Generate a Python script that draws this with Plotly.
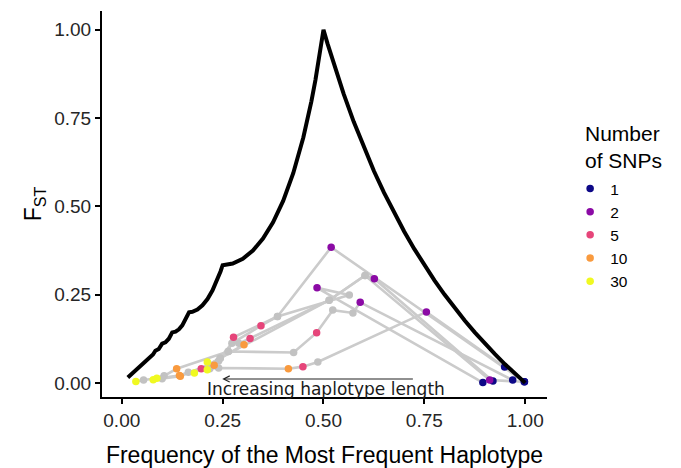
import plotly.graph_objects as go

# Upper bound curve of FST vs frequency of most frequent haplotype
curve_m = [0.015, 0.02, 0.025, 0.0333, 0.04, 0.05, 0.0556, 0.0625, 0.0714, 0.0774,
           0.0833, 0.0917, 0.1, 0.1083, 0.1167, 0.125, 0.1333, 0.1417, 0.15, 0.1583,
           0.1667, 0.175, 0.1875, 0.2, 0.2125, 0.225, 0.2375, 0.245, 0.25, 0.275,
           0.3, 0.325, 0.35, 0.375, 0.4, 0.425, 0.45, 0.46, 0.47, 0.48, 0.49, 0.5,
           0.51, 0.52, 0.53, 0.55, 0.575, 0.6, 0.625, 0.65, 0.675, 0.7, 0.725, 0.75,
           0.775, 0.8, 0.825, 0.85, 0.875, 0.9, 0.925, 0.95, 0.975, 1.0]
curve_f = [0.0151, 0.0204, 0.0256, 0.0345, 0.0408, 0.0526, 0.0588, 0.0667, 0.0769, 0.0804,
           0.0909, 0.0959, 0.1111, 0.1146, 0.125, 0.1429, 0.145, 0.1516, 0.1628, 0.1788,
           0.2, 0.2012, 0.2075, 0.2195, 0.2374, 0.2619, 0.2935, 0.3163, 0.3333, 0.3378,
           0.3514, 0.3746, 0.4085, 0.4545, 0.5152, 0.5936, 0.6949, 0.7434, 0.7972, 0.8574, 0.9246, 1.0,
           0.9608, 0.9231, 0.8868, 0.8182, 0.7391, 0.6667, 0.6, 0.5385, 0.4815, 0.4286, 0.3793, 0.3333,
           0.2903, 0.25, 0.2121, 0.1765, 0.1429, 0.1111, 0.0811, 0.0526, 0.0256, 0.0]

# Haplotype trajectories (one per region): M, FST, number of SNPs
path_a_m = [0.998, 0.519, 0.386, 0.345, 0.273, 0.229, 0.212]
path_a_f = [0.003, 0.384, 0.188, 0.162, 0.112, 0.050, 0.059]
path_a_n = [1, 2, 3, 5, 7, 10, 30]

path_b_m = [0.920, 0.626, 0.603, 0.514, 0.318, 0.290, 0.303, 0.244, 0.180]
path_b_f = [0.005, 0.295, 0.304, 0.234, 0.126, 0.112, 0.108, 0.070, 0.028]
path_b_n = [1, 2, 3, 4, 5, 7, 10, 20, 30]

path_c_m = [0.895, 0.484, 0.564, 0.386, 0.277, 0.264, 0.136, 0.105, 0.087]
path_c_f = [0.001, 0.269, 0.249, 0.188, 0.129, 0.089, 0.040, 0.020, 0.013]
path_c_n = [1, 2, 3, 4, 5, 7, 10, 20, 30]

path_d_m = [0.969, 0.591, 0.573, 0.523, 0.483, 0.426, 0.264, 0.240, 0.145, 0.100, 0.078]
path_d_f = [0.008, 0.228, 0.198, 0.206, 0.142, 0.086, 0.089, 0.062, 0.019, 0.012, 0.009]
path_d_n = [1, 2, 3, 4, 5, 6, 8, 9, 10, 20, 30]

path_e_m = [0.949, 0.755, 0.486, 0.449, 0.413, 0.240, 0.218, 0.212]
path_e_f = [0.045, 0.201, 0.059, 0.046, 0.040, 0.042, 0.040, 0.037]
path_e_n = [1, 2, 3, 5, 10, 15, 20, 30]

path_f_m = [0.998, 0.912, 0.603, 0.514, 0.244, 0.197, 0.165, 0.143, 0.054, 0.035]
path_f_f = [0.003, 0.008, 0.304, 0.234, 0.070, 0.040, 0.030, 0.021, 0.008, 0.004]
path_f_n = [1, 2, 3, 4, 4.5, 5, 7, 10, 20, 30]

paths = [(path_a_m, path_a_f, path_a_n), (path_b_m, path_b_f, path_b_n),
         (path_c_m, path_c_f, path_c_n), (path_d_m, path_d_f, path_d_n),
         (path_e_m, path_e_f, path_e_n), (path_f_m, path_f_f, path_f_n)]

snp_levels = [1, 2, 5, 10, 30]
snp_colors = ["#0D0887", "#8B0AA5", "#E6457A", "#F99A3E", "#F0F921"]

fig = go.Figure()

for m, f, n in paths:
    fig.add_trace(go.Scatter(x=m, y=f, mode="lines",
                             line=dict(color="#CBCBCB", width=2.6),
                             showlegend=False, hoverinfo="skip"))

gx, gy = [], []
for m, f, n in paths:
    for xi, yi, ni in zip(m, f, n):
        if ni not in snp_levels:
            gx.append(xi)
            gy.append(yi)
fig.add_trace(go.Scatter(x=gx, y=gy, mode="markers",
                         marker=dict(color="#C2C2C2", size=7.5),
                         showlegend=False, hoverinfo="skip"))

for lev, col in zip(snp_levels, snp_colors):
    xs, ys = [], []
    for m, f, n in paths:
        for xi, yi, ni in zip(m, f, n):
            if ni == lev:
                xs.append(xi)
                ys.append(yi)
    fig.add_trace(go.Scatter(x=xs, y=ys, mode="markers", name=str(lev),
                             marker=dict(color=col, size=7.5)))

fig.add_trace(go.Scatter(x=curve_m, y=curve_f, mode="lines",
                         line=dict(color="black", width=4),
                         showlegend=False, hoverinfo="skip"))

font_main = "Liberation Sans, Arial, sans-serif"

fig.add_annotation(x=0.249, y=0.011, ax=0.729, ay=0.011, xref="x", yref="y",
                   axref="x", ayref="y", showarrow=True, arrowhead=5,
                   arrowsize=1.1, arrowwidth=1.1, arrowcolor="#222222", text=" ")
fig.add_annotation(x=0.505, y=-0.016, xref="x", yref="y", showarrow=False,
                   text="Increasing haplotype length",
                   font=dict(family="DejaVu Sans", size=17, color="#1a1a1a"))

fig.add_annotation(x=1.08, y=0.718, xref="paper", yref="paper", showarrow=False,
                   text="Number<br>of SNPs", xanchor="left", yanchor="top",
                   align="left", font=dict(family=font_main, size=21, color="black"))

fig.update_layout(
    width=681, height=468,
    margin=dict(l=102, r=134, t=11, b=71, autoexpand=False),
    paper_bgcolor="white", plot_bgcolor="white",
    font=dict(family=font_main, color="black"),
    showlegend=True,
    legend=dict(x=1.052, y=0.583, xanchor="left", yanchor="top",
                font=dict(family=font_main, size=15.5, color="black"),
                bgcolor="rgba(0,0,0,0)", itemsizing="trace"),
    xaxis=dict(range=[-0.049, 1.054], showgrid=False, zeroline=False,
               automargin=False,
               showline=True, linecolor="black", linewidth=2,
               ticks="outside", ticklen=5, tickwidth=1.5, tickcolor="black",
               tickvals=[0, 0.25, 0.5, 0.75, 1.0],
               ticktext=["0.00", "0.25", "0.50", "0.75", "1.00"],
               tickfont=dict(size=19, color="#262626"),
               title=dict(text="Frequency of the Most Frequent Haplotype",
                          font=dict(size=23, color="black"), standoff=26)),
    yaxis=dict(range=[-0.04, 1.053], showgrid=False, zeroline=False,
               automargin=False,
               showline=True, linecolor="black", linewidth=2,
               ticks="outside", ticklen=5, tickwidth=1.5, tickcolor="black",
               tickvals=[0, 0.25, 0.5, 0.75, 1.0],
               ticktext=["0.00", "0.25", "0.50", "0.75", "1.00"],
               tickfont=dict(size=19, color="#262626"),
               title=dict(text="F<sub>ST</sub>",
                          font=dict(size=23, color="black"), standoff=6)),
)

fig.write_html("out.html")
